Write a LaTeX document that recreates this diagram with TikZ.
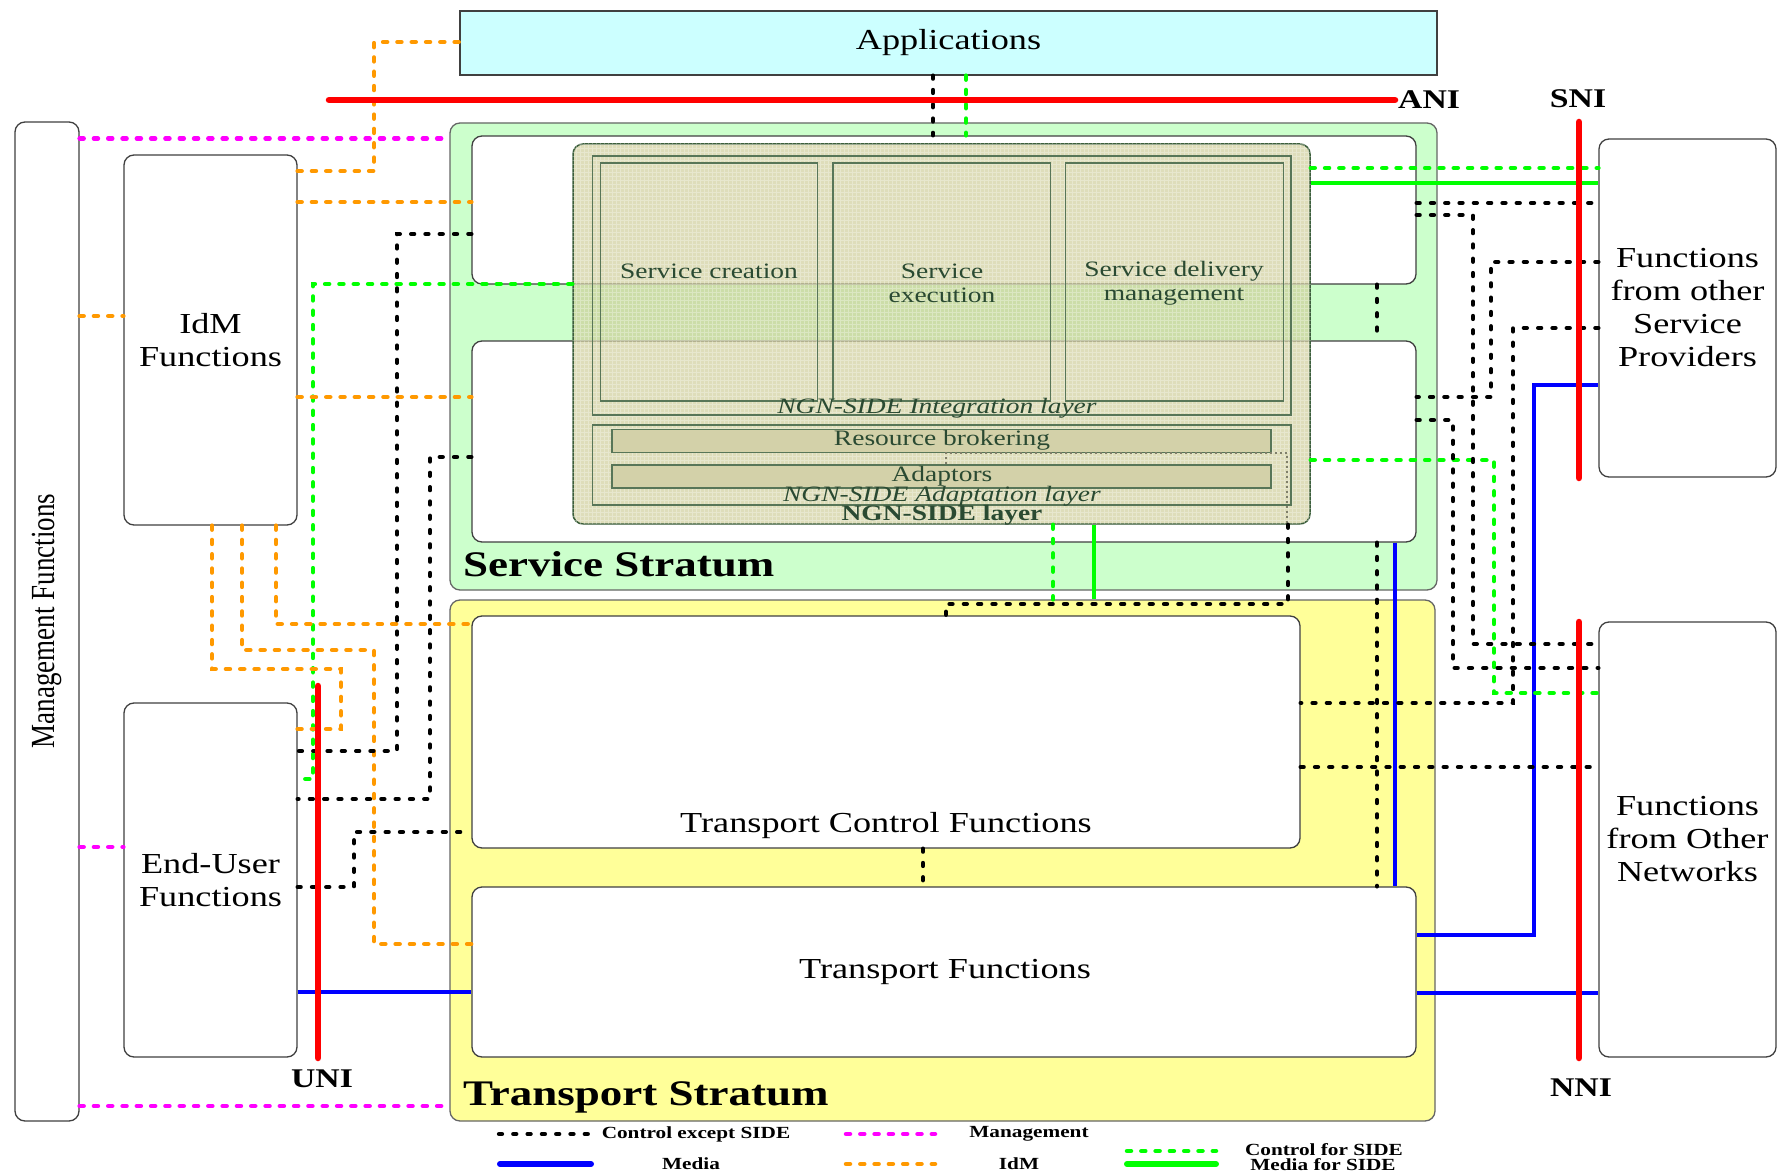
\documentclass[tikz,border=0pt]{standalone}
\usepackage{fontspec}
\setmainfont{Liberation Serif}
\usepackage{graphicx}
% widened lettering used throughout the figure
\newcommand{\wx}[1]{\scalebox{1.25}[1]{#1}}
\newcommand{\fsMain}{\fontsize{29}{33}\selectfont}
\newcommand{\fsStratum}{\fontsize{36}{40}\selectfont\bfseries}
\newcommand{\fsIf}{\fontsize{27}{30}\selectfont\bfseries}
\newcommand{\fsSide}{\fontsize{22}{24}\selectfont}
\newcommand{\fsLeg}{\fontsize{17}{19}\selectfont\bfseries}

\definecolor{appfill}{HTML}{CCFFFF}
\definecolor{svcfill}{HTML}{CCFFCC}
\definecolor{trpfill}{HTML}{FFFF99}
\definecolor{edgec}{HTML}{404040}
\definecolor{sidefill}{HTML}{CDCB96}
\definecolor{sideedge}{HTML}{3B5E3B}
\definecolor{sidetext}{HTML}{2A4A32}
\definecolor{barfill}{HTML}{D3D1A9}
\definecolor{idmc}{HTML}{FF9900}
\definecolor{mgtc}{HTML}{FF00FF}
\definecolor{sidec}{HTML}{00FF00}
\definecolor{mediac}{HTML}{0000FF}
\definecolor{ifred}{HTML}{FF0000}
\definecolor{faintc}{HTML}{7F7F6A}

\begin{document}
\begin{tikzpicture}[x=1pt,y=-1pt,
  roundbox/.style={draw=edgec, line width=1.3pt, rounded corners=10pt, inner sep=0pt, fill=white},
  plainbox/.style={draw=edgec, line width=1.3pt, inner sep=0pt},
  layerbox/.style={draw=sideedge!85, line width=1.3pt, inner sep=0pt},
  maintxt/.style={font=\fsMain, align=center, inner sep=0pt},
  sidetxt/.style={font=\fsSide, text=sidetext, align=center, inner sep=0pt},
  iflabel/.style={font=\fsIf, inner sep=0pt},
  legtxt/.style={font=\fsLeg, inner sep=0pt},
  dashline/.style={line width=4.5pt, line cap=round, dash pattern=on 4pt off 10.3pt},
  ctl/.style={dashline, black, line width=4.3pt, dash pattern=on 3pt off 11.3pt},
  idml/.style={dashline, idmc},
  mgtl/.style={dashline, mgtc},
  sidectl/.style={dashline, sidec},
  sidemed/.style={line width=4.8pt, sidec},
  media/.style={line width=4.8pt, mediac},
  iface/.style={line width=6.5pt, ifred, line cap=round},
  faint/.style={faintc, line width=2pt, dash pattern=on 2pt off 3pt}
]
\useasboundingbox (0,0) rectangle (1778,1174);
\fill[white] (0,0) rectangle (1778,1174);

% ---------------- outer functional blocks ----------------
\node[roundbox, minimum width=64pt, minimum height=999pt] (mgmt) at (47,621.5) {};
\node[maintxt, rotate=90, font=\fontsize{27}{30}\selectfont] (mgmttxt) at (46.5,621) {\scalebox{1}[1.25]{Management Functions}};

\node[roundbox, maintxt, minimum width=173pt, minimum height=370pt] (idm) at (210.5,340) {\wx{IdM}\\\wx{Functions}};
\node[roundbox, maintxt, minimum width=173pt, minimum height=354pt] (eu) at (210.5,880) {\wx{End-User}\\\wx{Functions}};

\node[plainbox, fill=appfill, font=\fsMain, minimum width=977pt, minimum height=64pt] (apps) at (948.5,43) {\wx{Applications}};

\node[roundbox, maintxt, minimum width=177pt, minimum height=338pt] (fsp) at (1687.5,308)
  {\wx{Functions}\\\wx{from other}\\\wx{Service}\\\wx{Providers}};
\node[roundbox, maintxt, minimum width=177pt, minimum height=435pt] (foon) at (1687.5,839.5)
  {\wx{Functions}\\\wx{from Other}\\\wx{Networks}};

% ---------------- strata ----------------
\node[roundbox, fill=svcfill, draw=edgec!80, minimum width=987pt, minimum height=467pt] (ss) at (943.5,356.5) {};
\node[roundbox, fill=trpfill, draw=edgec!80, minimum width=985pt, minimum height=521pt] (ts) at (942.5,860.5) {};

\node[roundbox, minimum width=944pt, minimum height=148pt] (su) at (944,210) {};
\node[roundbox, minimum width=944pt, minimum height=201pt] (sl) at (944,441.5) {};
\node[roundbox, minimum width=828pt, minimum height=232pt] (tcf) at (886,732) {};
\node[roundbox, minimum width=944pt, minimum height=170pt] (tf) at (944,972) {};

\node[maintxt] (tcftxt) at (886,826) {\wx{Transport Control Functions}};
\node[maintxt] (tftxt) at (945,972) {\wx{Transport Functions}};
\node[font=\fsStratum, anchor=west, inner sep=0pt] (sstxt) at (463,564) {\wx{Service Stratum}};
\node[font=\fsStratum, anchor=west, inner sep=0pt] (tstxt) at (463,1097) {\wx{Transport Stratum}};

% ---------------- NGN-SIDE layer ----------------
\node[roundbox, draw=sideedge, fill=sidefill, fill opacity=0.65, line width=1.5pt,
      minimum width=737pt, minimum height=380pt] (side) at (941.5,334) {};
\begin{scope}
  \clip[rounded corners=10pt] (side.south west) rectangle (side.north east);
  \draw[white, opacity=0.3, line width=0.5pt, step=4pt] (side.south west) grid (side.north east);
\end{scope}

\node[layerbox, minimum width=698.5pt, minimum height=259pt] (integ) at (941.75,285.5) {};
\node[layerbox, minimum width=216.7pt, minimum height=237.7pt] (sc) at (709,282) {};
\node[layerbox, minimum width=217.5pt, minimum height=237.7pt] (se) at (941.75,282) {};
\node[layerbox, minimum width=218pt, minimum height=237.7pt] (sdm) at (1174.5,282) {};
\node[layerbox, minimum width=698.5pt, minimum height=80pt] (adapt) at (941.75,465) {};
\node[layerbox, fill=barfill, minimum width=659pt, minimum height=23pt] (rb) at (941.5,441.2) {};
\node[layerbox, fill=barfill, minimum width=659pt, minimum height=23pt] (ad) at (941.5,476.5) {};

\node[sidetxt] (sctxt) at (709,271.7) {\wx{Service creation}};
\node[sidetxt] (setxt) at (942,283.7) {\wx{Service}\\\wx{execution}};
\node[sidetxt] (sdmtxt) at (1174,283.7) {\wx{Service delivery}\\\wx{management}};
\node[sidetxt, font=\fsSide\itshape] (integtxt) at (937,408) {\wx{NGN-SIDE Integration layer}};
\node[sidetxt] (rbtxt) at (942,440.5) {\wx{Resource brokering}};
\node[sidetxt] (adtxt) at (942,476) {\wx{Adaptors}};
\node[sidetxt, font=\fsSide\itshape] (adapttxt) at (942,496) {\wx{NGN-SIDE Adaptation layer}};
\node[sidetxt, font=\fsSide\bfseries] (sidetxt) at (942,515) {\wx{NGN-SIDE layer}};

\draw[faint] (ad.north -| 946,0) |- (1287,453) -- (side.south -| 1287,0);

% ---------------- media links ----------------
\draw[media] (eu.east |- 0,992) -- (tf.west |- 0,992);
\draw[media] (sl.south -| 1395,0) -- (tf.north -| 1395,0);
\draw[media] (tf.east |- 0,935) -| (1534,385) -- (fsp.west |- 0,385);
\draw[media] (tf.east |- 0,993) -- (foon.west |- 0,993);

% ---------------- SIDE media / control ----------------
\draw[sidemed] (side.east |- 0,183) -- (fsp.west |- 0,183);
\draw[sidemed] (side.south -| 1094,0) -- (ts.north -| 1094,0);
\draw[sidectl] (apps.south -| 966,0) -- (su.north -| 966,0);
\draw[sidectl] (side.west |- 0,284) -| (313,779) -- (eu.east |- 0,779);
\draw[sidectl] (side.east |- 0,168) -- (fsp.west |- 0,168);
\draw[sidectl] (side.east |- 0,460) -| (1494,693) -- (foon.west |- 0,693);
\draw[sidectl] (side.south -| 1053,0) -- (ts.north -| 1053,0);

% ---------------- identity management ----------------
\draw[idml] (idm.east |- 0,171) -| (374,42) -- (apps.west |- 0,42);
\draw[idml] (idm.east |- 0,202) -- (su.west |- 0,202);
\draw[idml] (mgmt.east |- 0,316) -- (idm.west |- 0,316);
\draw[idml] (idm.east |- 0,397) -- (sl.west |- 0,397);
\draw[idml] (idm.south -| 276,0) -- (276,624) -- (tcf.west |- 0,624);
\draw[idml] (idm.south -| 242,0) |- (374,650) |- (tf.west |- 0,944);
\draw[idml] (idm.south -| 212,0) |- (341,669) |- (eu.east |- 0,729);

% ---------------- management ----------------
\draw[mgtl] (mgmt.east |- 0,138.5) -- (ss.west |- 0,138.5);
\draw[mgtl] (mgmt.east |- 0,847) -- (eu.west |- 0,847);
\draw[mgtl] (mgmt.east |- 0,1106) -- (ts.west |- 0,1106);

% ---------------- control (except SIDE) ----------------
\draw[ctl] (apps.south -| 933,0) -- (su.north -| 933,0);
\draw[ctl] (su.west |- 0,234) -| (397,751) -- (eu.east |- 0,751);
\draw[ctl] (sl.west |- 0,457) -| (430,799) -- (eu.east |- 0,799);
\draw[ctl] (eu.east |- 0,887) -| (354,832) -- (tcf.west |- 0,832);
\draw[ctl] (su.east |- 0,203) -- (fsp.west |- 0,203);
\draw[ctl] (su.east |- 0,215) -| (1473,644) -- (foon.west |- 0,644);
\draw[ctl] (fsp.west |- 0,262) -| (1491,397) -- (sl.east |- 0,397);
\draw[ctl] (fsp.west |- 0,328) -| (1513,703) -- (tcf.east |- 0,703);
\draw[ctl] (sl.east |- 0,420) -| (1453,668) -- (foon.west |- 0,668);
\draw[ctl] (tcf.east |- 0,767) -- (foon.west |- 0,767);
\draw[ctl] (su.south -| 1377,0) -- (sl.north -| 1377,0);
\draw[ctl] (sl.south -| 1377,0) -- (tf.north -| 1377,0);
\draw[ctl] (tcf.south -| 923,0) -- (tf.north -| 923,0);
\draw[ctl] (side.south -| 1288,0) |- (946,604) -- (tcf.north -| 946,0);

% ---------------- reference points (interfaces) ----------------
\coordinate (aniW) at (329,100);  \coordinate (aniE) at (1395,100);
\coordinate (sniN) at (1579,122); \coordinate (sniS) at (1579,478);
\coordinate (uniN) at (318,686);  \coordinate (uniS) at (318,1058);
\coordinate (nniN) at (1579,622); \coordinate (nniS) at (1579,1058);
\draw[iface] (aniW) -- (aniE);
\draw[iface] (sniN) -- (sniS);
\draw[iface] (uniN) -- (uniS);
\draw[iface] (nniN) -- (nniS);
\node[iflabel, anchor=west] (anitxt) at (1398,100) {\wx{ANI}};
\node[iflabel] (snitxt) at (1578,99) {\wx{SNI}};
\node[iflabel] (unitxt) at (322,1079) {\wx{UNI}};
\node[iflabel] (nnitxt) at (1581,1088) {\wx{NNI}};

% ---------------- legend ----------------
\coordinate (lgA1) at (499,1134);  \coordinate (lgA2) at (588,1134);
\coordinate (lgB1) at (846,1134);  \coordinate (lgB2) at (935,1134);
\coordinate (lgC1) at (500,1164);  \coordinate (lgC2) at (591,1164);
\coordinate (lgD1) at (846,1164);  \coordinate (lgD2) at (935,1164);
\coordinate (lgE1) at (1127,1151); \coordinate (lgE2) at (1216,1151);
\coordinate (lgF1) at (1127,1164); \coordinate (lgF2) at (1216,1164);
\draw[ctl] (lgA1) -- (lgA2);
\draw[mgtl] (lgB1) -- (lgB2);
\draw[media, line width=6pt, line cap=round] (lgC1) -- (lgC2);
\draw[idml] (lgD1) -- (lgD2);
\draw[sidectl] (lgE1) -- (lgE2);
\draw[sidemed, line width=6pt, line cap=round] (lgF1) -- (lgF2);
\node[legtxt] (lgAt) at (696,1134) {\wx{Control except SIDE}};
\node[legtxt] (lgBt) at (1029,1134) {\wx{Management}};
\node[legtxt] (lgCt) at (691,1164) {\wx{Media}};
\node[legtxt] (lgDt) at (1019,1164) {\wx{IdM}};
\node[legtxt] (lgEt) at (1324,1150) {\wx{Control for SIDE}};
\node[legtxt] (lgFt) at (1323,1165) {\wx{Media for SIDE}};
\end{tikzpicture}
\end{document}
